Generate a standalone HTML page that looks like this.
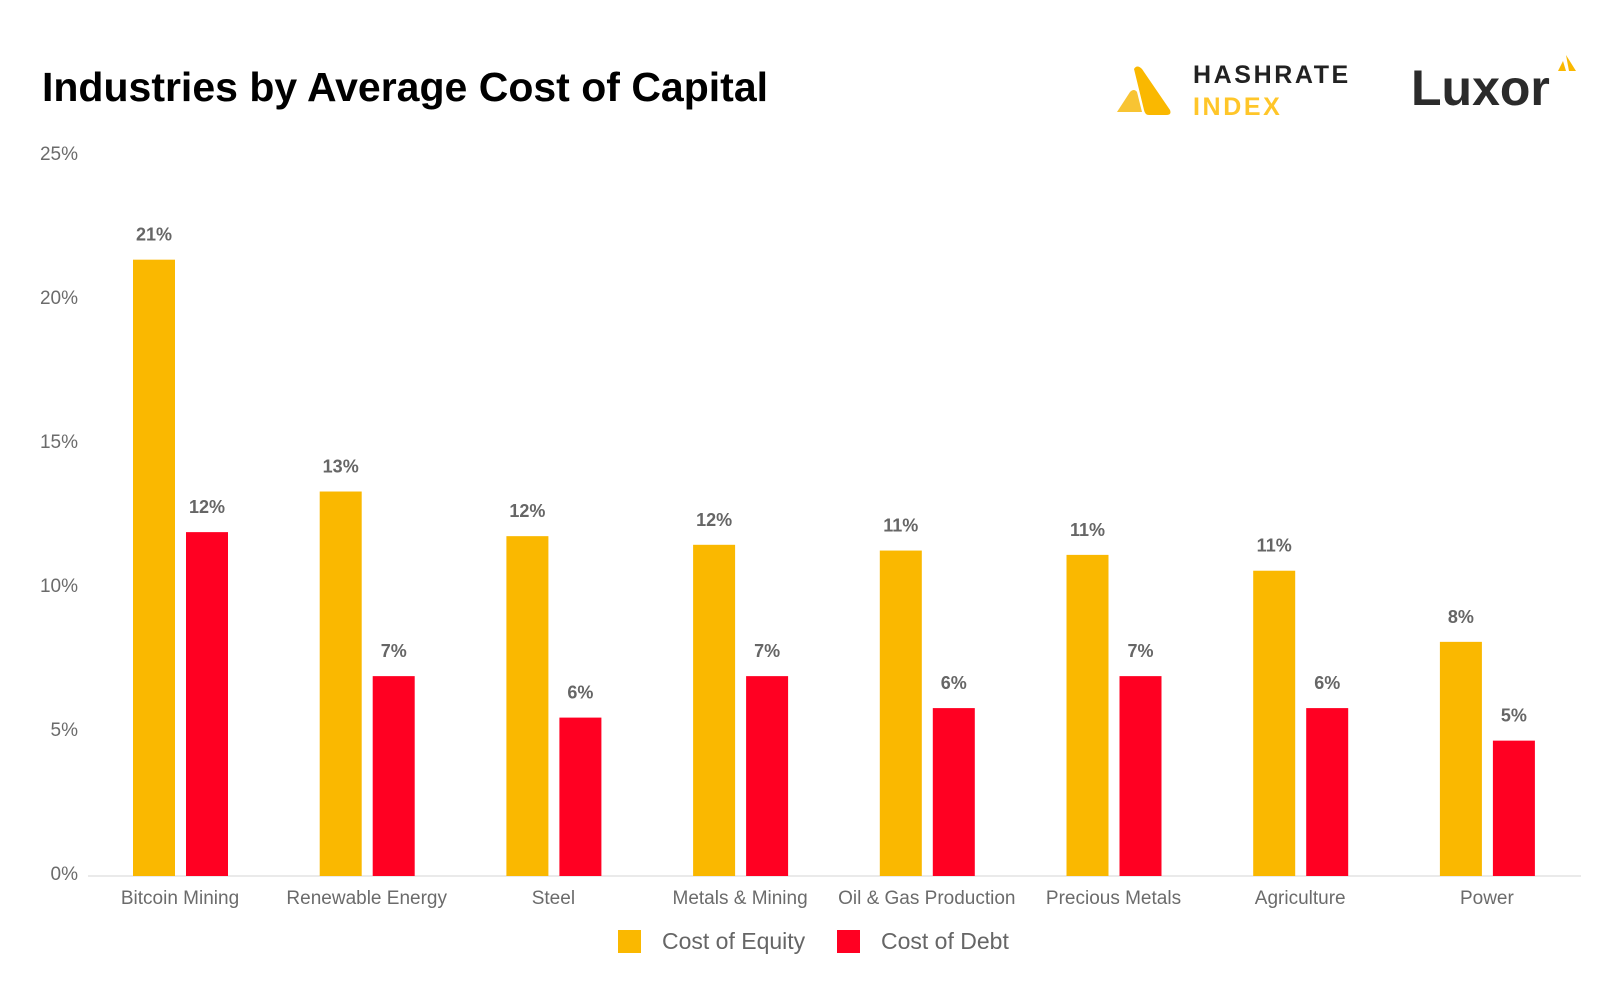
<!DOCTYPE html>
<html><head><meta charset="utf-8"><style>
body{margin:0;background:#fff;width:1624px;height:989px;overflow:hidden;font-family:"Liberation Sans",sans-serif}
svg text{font-family:"Liberation Sans",sans-serif}
</style></head><body>
<svg id="chart" width="1624" height="989" xmlns="http://www.w3.org/2000/svg">
<text x="42" y="101" font-size="41" font-weight="bold" fill="#000">Industries by Average Cost of Capital</text>
<g>
<path d="M1117 112 L1130 92 Q1134 88 1137 92 L1142 112 Z" fill="#F8C433"/>
<path d="M1134 69 Q1137 64 1142 69 L1170 110 Q1172 115 1166 115 L1149 115 Q1145 115 1144 110 Z" fill="#FAB800"/>
<text x="1193" y="83" font-size="25" font-weight="bold" fill="#222" letter-spacing="2.6">HASHRATE</text>
<text x="1193" y="115" font-size="25" font-weight="bold" fill="#FFC629" letter-spacing="2.6">INDEX</text>
</g>
<g>
<text x="1411" y="105" font-size="50" font-weight="bold" fill="#2b2b2b">Luxor</text>
<path d="M1558 71 L1563 61 L1566 71 Z M1566 55 L1576 71 L1569 71 Z" fill="#FAB800"/>
</g>
<g id="axis"></g>
<g id="bars"></g>
<g>
<rect x="618" y="930" width="23" height="23" fill="#FAB800"/>
<text x="662" y="949" font-size="23" fill="#666">Cost of Equity</text>
<rect x="837" y="930" width="23" height="23" fill="#FF0022"/>
<text x="881" y="949" font-size="23" fill="#666">Cost of Debt</text>
</g>
</svg>
<script>
const categories=["Bitcoin Mining","Renewable Energy","Steel","Metals & Mining","Oil & Gas Production","Precious Metals","Agriculture","Power"];
const equity=[21.4,13.35,11.8,11.5,11.3,11.15,10.6,8.13];
const debt=[11.94,6.94,5.5,6.94,5.83,6.94,5.83,4.7];
const equityLabels=["21%","13%","12%","12%","11%","11%","11%","8%"];
const debtLabels=["12%","7%","6%","7%","6%","7%","6%","5%"];
const yTicks=[0,5,10,15,20,25];
const NS="http://www.w3.org/2000/svg";
const y0=876,pxPer=28.8;
const yS=v=>y0-v*pxPer;
const xS=i=>133+186.7*i;
function mk(tag,attrs,parent){const e=document.createElementNS(NS,tag);for(const k in attrs)e.setAttribute(k,attrs[k]);parent.appendChild(e);return e;}
const axis=document.getElementById('axis'),bars=document.getElementById('bars');
const base=mk('line',{x1:88,x2:1581,y1:y0,y2:y0,stroke:'#e3e3e3','stroke-width':1.5},axis);


yTicks.forEach(t=>{const e=mk('text',{x:78,y:yS(t)+4,'font-size':19,fill:'#6b6b6b','text-anchor':'end'},axis);e.textContent=t+'%';

});
categories.forEach((c,i)=>{
const x=xS(i),w=42;
const a=mk('rect',{x:x,y:yS(equity[i]),width:w,height:y0-yS(equity[i]),fill:'#FAB800'},bars);


const b=mk('rect',{x:x+53,y:yS(debt[i]),width:w,height:y0-yS(debt[i]),fill:'#FF0022'},bars);


const la=mk('text',{x:x+w/2,y:yS(equity[i])-19,'font-size':18,'font-weight':'bold',fill:'#666','text-anchor':'middle'},bars);la.textContent=equityLabels[i];


const lb=mk('text',{x:x+53+w/2,y:yS(debt[i])-19,'font-size':18,'font-weight':'bold',fill:'#666','text-anchor':'middle'},bars);lb.textContent=debtLabels[i];


const cl=mk('text',{x:x+47,y:904,'font-size':19,fill:'#6b6b6b','text-anchor':'middle'},bars);cl.textContent=c;


});
</script>
</body></html>
